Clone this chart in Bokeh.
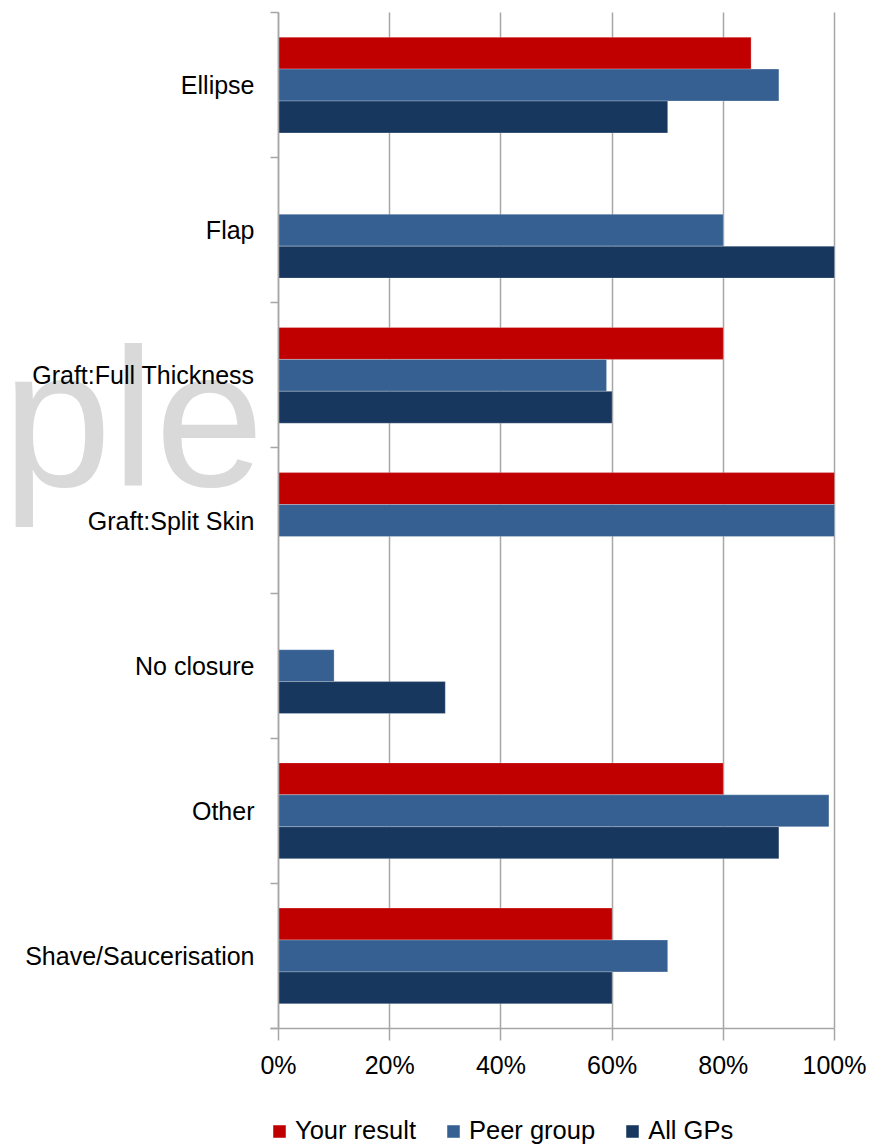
from bokeh.plotting import figure
from bokeh.models import (Range1d, FixedTicker, Legend, LegendItem, Label,
                          NumeralTickFormatter, LinearAxis, Grid)
from bokeh.embed import file_html
from bokeh.resources import INLINE

# ---- data -------------------------------------------------------------
categories = ["Ellipse", "Flap", "Graft:Full Thickness", "Graft:Split Skin",
              "No closure", "Other", "Shave/Saucerisation"]
your_result = [0.85, 0.00, 0.80, 1.00, 0.00, 0.80, 0.60]
peer_group = [0.90, 0.80, 0.59, 1.00, 0.10, 0.99, 0.70]
all_gps = [0.70, 1.00, 0.60, 0.00, 0.30, 0.90, 0.60]
series_names = ["Your result", "Peer group", "All GPs"]
series_colors = ["#c00000", "#366092", "#17375e"]
x_ticks = [0, 0.2, 0.4, 0.6, 0.8, 1.0]

FONT = "Liberation Sans"
GRID = "#a6a6a6"
n = len(categories)

# ---- layout (pixels) ----------------------------------------------------
W, H = 872, 1146
X0, X1 = 278, 834          # pixel of 0% and 100%
Y0, Y1 = 12, 1028          # pixel of top and bottom of the category band
sx = (X1 - X0)             # px per unit
sy = (Y1 - Y0) / n         # px per category
x_range = Range1d(-X0 / sx, (W - X0) / sx)
y_range = Range1d((H - Y0) / sy, -Y0 / sy)

p = figure(width=W, height=H, x_range=x_range, y_range=y_range,
           x_axis_location=None, y_axis_location=None,
           output_backend="svg", toolbar_location=None, min_border=0)
p.outline_line_color = None
p.background_fill_color = "white"
p.border_fill_color = "white"
p.grid.visible = False

# watermark
wm = Label(x=-(X0 - 2) / sx, y=(418 - Y0) / sy, x_units="data", y_units="data",
           text="ple", text_font=FONT, text_font_size="196px",
           text_color="#d9d9d9", text_baseline="alphabetic",
           text_align="left", level="annotation")
p.add_layout(wm)

# grid
xgrid = Grid(dimension=0, ticker=FixedTicker(ticks=x_ticks),
             grid_line_color=GRID, grid_line_width=1.5,
             bounds=(0, 1), cross_bounds=(0, n))
p.add_layout(xgrid)

# bars
bar_h = 0.22
items = []
for j, (vals, name, color) in enumerate(zip([your_result, peer_group, all_gps],
                                             series_names, series_colors)):
    off = (j - 1) * bar_h
    ys = [i + 0.5 + off for i in range(n)]
    r = p.hbar(y=ys, left=0, right=vals, height=bar_h,
               fill_color=color, line_color="white", line_alpha=0.25,
               line_width=1)
    items.append(LegendItem(label=name, renderers=[r]))

# x axis
xa = LinearAxis(fixed_location=n, bounds=(-8 / sx, 1.0), level="overlay")
xa.ticker = FixedTicker(ticks=x_ticks)
xa.formatter = NumeralTickFormatter(format="0%")
xa.axis_line_color = GRID
xa.axis_line_width = 1.5
xa.major_tick_line_color = GRID
xa.major_tick_line_width = 1.5
xa.major_tick_in = 0
xa.major_tick_out = 12
xa.minor_tick_line_color = None
xa.major_label_text_font = FONT
xa.major_label_text_font_size = "25px"
xa.major_label_text_color = "#000000"
xa.major_label_standoff = 10
p.add_layout(xa, "below")

# y axis
centers = [i + 0.5 for i in range(n)]
ya = LinearAxis(fixed_location=0, bounds=(0, n), level="overlay")
ya.ticker = FixedTicker(ticks=centers, minor_ticks=list(range(n + 1)))
ya.major_label_overrides = {c: cat for c, cat in zip(centers, categories)}
ya.axis_line_color = GRID
ya.axis_line_width = 1.5
ya.major_tick_line_color = None
ya.major_tick_in = 0
ya.major_tick_out = 0
ya.minor_tick_line_color = GRID
ya.minor_tick_line_width = 1.5
ya.minor_tick_in = 0
ya.minor_tick_out = 8
ya.major_label_text_font = FONT
ya.major_label_text_font_size = "25px"
ya.major_label_text_color = "#000000"
ya.major_label_standoff = 16
p.add_layout(ya, "left")

# legend
legend = Legend(items=items, orientation="horizontal", location=(271, 1),
                glyph_width=16, glyph_height=16, label_text_font=FONT,
                label_text_font_size="25.5px", label_text_color="#000000",
                spacing=29, label_standoff=8, border_line_color=None,
                background_fill_alpha=0, padding=0, margin=0)
p.add_layout(legend)

open("out.html", "w").write(file_html(p, INLINE))
